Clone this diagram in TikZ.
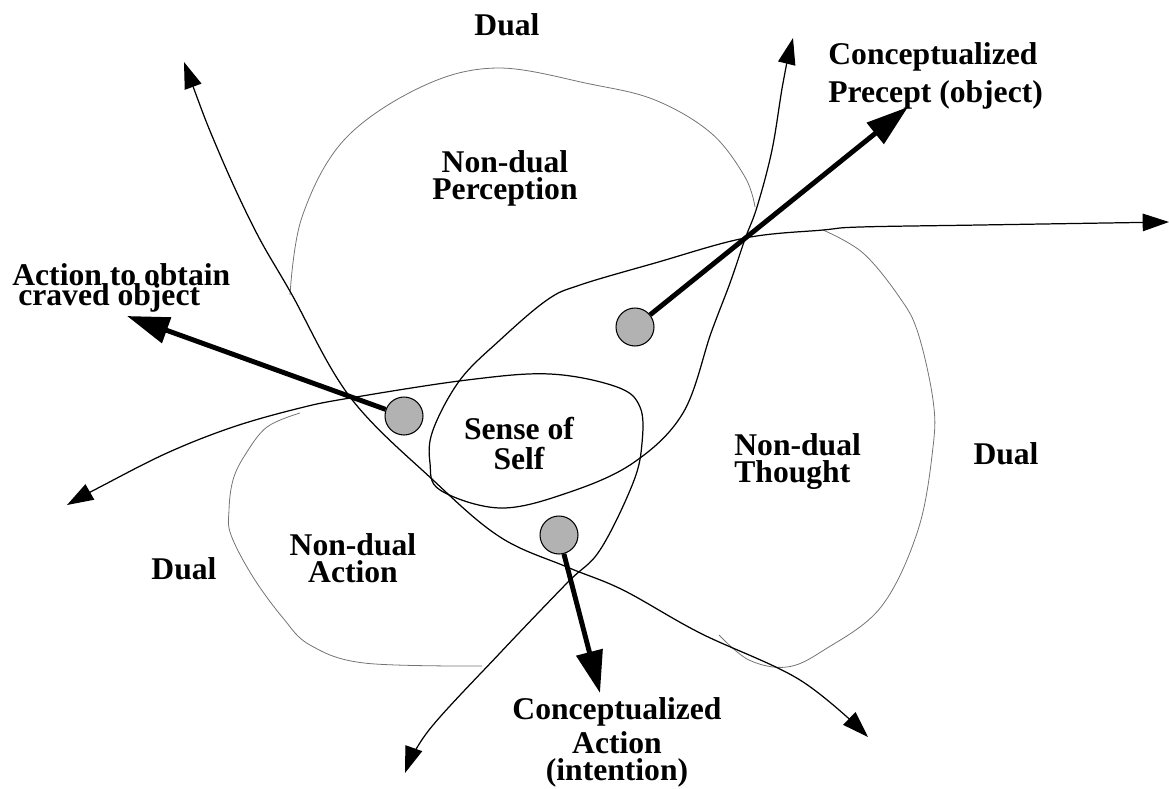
\documentclass[tikz,border=0pt]{standalone}
\usepackage{fontspec}
\setmainfont{Liberation Serif}
\usetikzlibrary{arrows.meta}
\lineskiplimit=-30pt
\lineskip=0pt

\begin{document}
\begin{tikzpicture}[x=0.02cm, y=-0.02cm,
  font=\fontsize{18}{15.6}\selectfont\bfseries,
  lbl/.style={inner sep=0pt, align=center, anchor=north},
  lbll/.style={inner sep=0pt, align=left, anchor=north west},
  dot/.style={circle, draw, line width=0.6pt, fill=black!30, inner sep=0pt, minimum size=0.76cm},
  zone/.style={draw=black!55, line width=0.45pt},
  flow/.style={line width=0.7pt, {Triangle[length=15pt,width=10pt]}-{Triangle[length=15pt,width=10pt]}},
  concept/.style={line width=2.8pt, -{Triangle[length=24pt,width=15pt]}}]
  \useasboundingbox (0,0) rectangle (1169,788);

  % non-dual zones
  \draw[zone] plot[smooth, tension=0.6] coordinates {(290,295) (302,217) (344,140) (421,87)
    (497,68) (590,84) (655,100) (711,133) (745,177) (755,207)};
  \draw[zone] plot[smooth, tension=0.6] coordinates {(823,230) (863,253) (900,298) (918,333)
    (933,400) (933,447) (918,530) (881,607) (824,650) (787,667) (749,660) (719,635)};
  \draw[zone] plot[smooth, tension=0.6] coordinates {(300,413) (267,427) (245,455) (233,480)
    (229,510) (231,535) (253,577) (283,618) (310,645) (364,663) (482,666)};

  % the three flows
  \draw[flow] plot[smooth, tension=0.6] coordinates {(184,62) (218,150) (255,230) (291,293)
    (350,397) (433,480) (500,537) (567,567) (623,590) (700,633) (800,680) (868,737)};
  \draw[flow] plot[smooth, tension=0.6] coordinates {(67,505) (100,487) (167,453) (233,427)
    (300,408) (350,398) (467,380) (550,374) (617,387) (640,407) (642,443) (633,483)
    (600,550) (567,583) (500,653) (429,730) (405,773)};
  \draw[flow] plot[smooth, tension=0.6] coordinates {(793,38) (783,83) (772,150) (757,207)
    (745,239) (730,283) (711,333) (683,413) (633,463) (567,493) (500,508) (440,490)
    (430,463) (433,430) (460,380) (500,340) (547,300) (580,285) (655,263) (745,238)
    (823,230) (860,227) (980,225) (1169,222)};

  % conceptualization points
  \node[dot] (dotCrave) at (404,416) {};
  \node[dot] (dotPercept) at (635,327) {};
  \node[dot] (dotIntent) at (559,535) {};
  \coordinate (tipCrave) at (127,316);
  \coordinate (tipPercept) at (908,107);
  \coordinate (tipIntent) at (600,693);
  \draw[concept] (dotCrave) -- (tipCrave);
  \draw[concept] (dotPercept) -- (tipPercept);
  \draw[concept] (dotIntent) -- (tipIntent);

  % labels
  \node[lbl] (dualTop) at (507,13) {Dual};
  \node[lbl] (perception) at (505,150) {Non-dual\\Perception};
  \node[lbll, font=\fontsize{18}{11.3}\selectfont\bfseries] (actionTo) at (12,263)
    {Action to obtain\\\hspace*{3.4pt}craved object};
  \node[lbll, font=\fontsize{18}{21.5}\selectfont\bfseries] (precept) at (828,42)
    {Conceptualized\\Precept (object)};
  \node[lbl, font=\fontsize{18}{17}\selectfont\bfseries] (self) at (519,417) {Sense of\\Self};
  \node[lbll] (thought) at (734,433) {Non-dual\\Thought};
  \node[lbl] (dualRight) at (1006,442) {Dual};
  \node[lbl] (actionND) at (353,533) {Non-dual\\Action};
  \node[lbl] (dualLeft) at (184,557) {Dual};
  \node[lbl, font=\fontsize{18}{19.3}\selectfont\bfseries] (intention) at (617,697)
    {Conceptualized\\Action\\[-3.5pt](intention)};
\end{tikzpicture}
\end{document}
